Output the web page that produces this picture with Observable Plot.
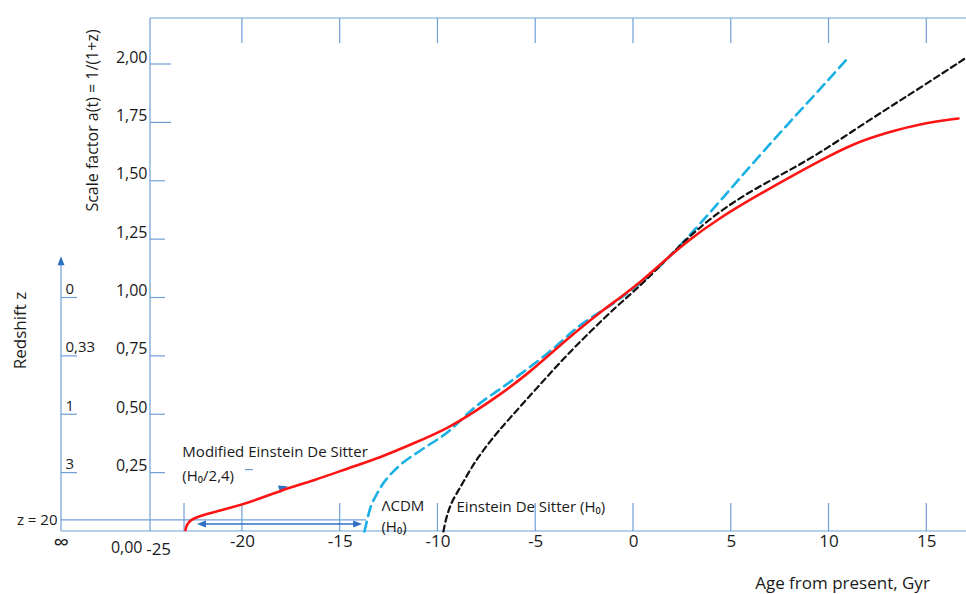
<!DOCTYPE html>
<html>
<head>
<meta charset="utf-8">
<script src="https://cdn.jsdelivr.net/npm/d3@7"></script>
<script src="https://cdn.jsdelivr.net/npm/@observablehq/plot@0.6"></script>
<style>
  html, body { margin: 0; padding: 0; background: #fff; }
  #chart svg { display: block; }
</style>
</head>
<body>
<div id="chart"></div>
<script>
// ---- Data ----
// Modified Einstein De Sitter (H0/2,4): age from present (Gyr) vs scale factor a(t)
const modT = [-22.91, -22.88, -22.80, -22.62, -22.30, -21.48, -19.74, -18.05, -16.36, -14.62, -12.94, -11.25, -9.51, -8.18, -6.80, -5.27, -4.24, -2.86, -1.53, -0.66, 0.51, 1.02, 2.76, 4.45, 6.14, 7.88, 9.56, 11.25, 12.99, 14.68, 16.62];
const modA = [0.006, 0.020, 0.034, 0.050, 0.063, 0.083, 0.120, 0.176, 0.218, 0.270, 0.317, 0.377, 0.441, 0.510, 0.587, 0.685, 0.762, 0.861, 0.951, 1.002, 1.079, 1.118, 1.246, 1.345, 1.430, 1.512, 1.589, 1.662, 1.709, 1.747, 1.769];
// ΛCDM (H0)
const lcdmT = [-13.76, -13.65, -13.45, -13.19, -12.94, -12.07, -10.89, -9.51, -8.18, -6.29, -4.24, -2.86, -0.82, 1.02, 2.76, 4.45, 6.14, 7.88, 9.56, 10.99];
const lcdmA = [0.000, 0.039, 0.103, 0.150, 0.188, 0.274, 0.347, 0.425, 0.527, 0.642, 0.774, 0.874, 0.990, 1.110, 1.259, 1.418, 1.580, 1.743, 1.897, 2.030];
// Einstein De Sitter (H0)
const edsT = [-9.72, -9.61, -9.46, -9.26, -8.95, -8.69, -8.34, -7.98, -7.31, -6.44, -4.91, -3.58, -2.20, -0.82, 0.20, 1.23, 2.76, 4.45, 6.14, 7.88, 9.56, 11.25, 12.99, 14.68, 17.03];
const edsA = [0.000, 0.047, 0.090, 0.133, 0.176, 0.214, 0.266, 0.313, 0.390, 0.475, 0.617, 0.741, 0.857, 0.968, 1.041, 1.126, 1.259, 1.375, 1.465, 1.542, 1.623, 1.717, 1.812, 1.901, 2.030];

// Axes / ticks
const xTicks = [-20, -15, -10, -5, 0, 5, 10, 15];
const xTickLabels = ["-20", "-15", "-10", "-5", "0", "5", "10", "15"];
const yTicks = [0.25, 0.5, 0.75, 1.0, 1.25, 1.5, 1.75, 2.0];
const yTickLabels = ["0,25", "0,50", "0,75", "1,00", "1,25", "1,50", "1,75", "2,00"];
const redshiftA = [1.0, 0.75, 0.5, 0.25];
const redshiftLabels = ["0", "0,33", "1", "3"];
const z20A = 1 / 21;
const xDomain = [-24.7, 17.03];
const yDomain = [0, 2.197];

// Annotations (data coordinates)
const ageArrow = {t1: -22.3, t2: -13.85, a: 0.03};
const curveArrow = {t: -17.9, a: 0.18};

const axisColor = "#6f9fd6";
const arrowColor = "#2f6fc4";
const textColor = "#1a1a1a";

const toRows = (T, A) => T.map((t, i) => ({t, a: A[i]}));

// Axis decorations drawn with the plot's own scales
function decor(index, scales) {
  const x = scales.x, y = scales.y;
  const g = d3.create("svg:g");
  const x0 = x(xDomain[0]);
  const rx = x0 - 89;          // redshift axis position
  const yb = y(0), yt = y(yDomain[1]);
  const line = (x1, y1, x2, y2, c = axisColor, w = 1.2) =>
    g.append("line").attr("x1", x1).attr("y1", y1).attr("x2", x2).attr("y2", y2)
      .attr("stroke", c).attr("stroke-width", w);
  // frame
  line(x0, yt, x(xDomain[1]), yt);
  line(x0, yt, x0, yb);
  line(rx, yb, x(xDomain[1]), yb);
  // top ticks
  for (const t of xTicks) line(x(t), yt, x(t), yt + 25);
  // bottom ticks (plus one at start of the modified curve)
  for (const t of [modT[0] - 0.05, ...xTicks]) line(x(t), yb, x(t), yb - 28);
  // y ticks
  yTicks.forEach(a => line(x0, y(a), x0 + (a >= 1.75 ? 21 : 15), y(a)));
  line(x0 + 95, y(0.25) - 3, x0 + 103, y(0.25) - 3);
  // redshift axis with arrow
  const topA = 1.16;
  line(rx, yb, rx, y(topA) + 4);
  g.append("path").attr("d", `M${rx},${y(topA) - 4}L${rx - 3.5},${y(topA) + 5}L${rx + 3.5},${y(topA) + 5}Z`).attr("fill", arrowColor);
  for (const a of redshiftA) line(rx, y(a), rx + 16, y(a));
  // z = 20 line
  line(rx, y(z20A), x(lcdmT[0]) + 2, y(z20A));
  // double arrow (age difference)
  const ay = y(ageArrow.a), ax1 = x(ageArrow.t1), ax2 = x(ageArrow.t2);
  line(ax1 + 6, ay, ax2 - 6, ay, arrowColor, 1.3);
  g.append("path").attr("d", `M${ax1},${ay}L${ax1 + 9},${ay - 3.5}L${ax1 + 9},${ay + 3.5}Z`).attr("fill", arrowColor);
  g.append("path").attr("d", `M${ax2},${ay}L${ax2 - 9},${ay - 3.5}L${ax2 - 9},${ay + 3.5}Z`).attr("fill", arrowColor);
  // small arrowhead along the red curve
  const cx = x(curveArrow.t), cy = y(curveArrow.a);
  const ang = Math.atan2(y(0.27) - y(0.12), x(-14.62) - x(-19.74)) * 180 / Math.PI;
  g.append("path").attr("d", "M5,0L-4,-4L-4,4Z").attr("fill", arrowColor)
    .attr("transform", `translate(${cx},${cy - 1}) rotate(${ang})`);
  return g.node();
}

const font = "'Open Sans', 'Liberation Sans', sans-serif";

const chart = Plot.plot({
  width: 966,
  height: 594,
  marginLeft: 150,
  marginRight: 0,
  marginTop: 18,
  marginBottom: 63,
  style: {fontFamily: font, fontSize: "16px", color: textColor, background: "#fff", overflow: "visible"},
  x: {domain: xDomain, axis: null},
  y: {domain: yDomain, axis: null},
  marks: [
    decor,
    // curves
    Plot.line(toRows(lcdmT, lcdmA), {x: "t", y: "a", stroke: "#19b1e3", strokeWidth: 2.6, strokeDasharray: "10,6", curve: "monotone-x"}),
    Plot.line(toRows(edsT, edsA), {x: "t", y: "a", stroke: "#111", strokeWidth: 2.2, strokeDasharray: "6,4", curve: "basis"}),
    Plot.line(toRows(modT, modA), {x: "t", y: "a", stroke: "#ff1414", strokeWidth: 2.6, curve: "basis"}),
    // x tick labels
    Plot.text(xTicks, {x: d => d, frameAnchor: "bottom", dy: 15, text: (d, i) => xTickLabels[i], fontSize: 17, fill: textColor}),
    Plot.text([-25], {x: d => d, frameAnchor: "bottom", dy: 23, dx: 14, text: () => "-25", fontSize: 17, fill: textColor}),
    // y tick labels
    Plot.text(yTicks, {y: d => d, frameAnchor: "left", dx: -3, dy: -7, textAnchor: "end", text: (d, i) => yTickLabels[i], fontSize: 16, fill: textColor}),
    Plot.text([0], {y: d => d, frameAnchor: "left", dx: -8, dy: 16, textAnchor: "end", text: () => "0,00", fontSize: 16, fill: textColor}),
    // redshift labels
    Plot.text(redshiftA, {y: d => d, frameAnchor: "left", dx: -85, dy: -9, textAnchor: "start", text: (d, i) => redshiftLabels[i], fontSize: 15, fill: textColor}),
    Plot.text([z20A], {y: d => d, frameAnchor: "left", dx: -93, textAnchor: "end", text: () => "z = 20", fontSize: 15, fill: textColor}),
    Plot.text([0], {y: d => d, frameAnchor: "left", dx: -97, dy: 11, textAnchor: "start", text: () => "∞", fontSize: 22, fill: textColor}),
    // axis titles
    Plot.text(["Scale factor a(t) = 1/(1+z)"], {frameAnchor: "top-left", dx: -58, dy: 102, rotate: -90, textAnchor: "middle", lineAnchor: "middle", text: d => d, fontSize: 16, fill: textColor}),
    Plot.text(["Redshift z"], {frameAnchor: "top-left", dx: -130, dy: 312, rotate: -90, textAnchor: "middle", lineAnchor: "middle", text: d => d, fontSize: 17, fill: textColor}),
    Plot.text(["Age from present, Gyr"], {frameAnchor: "bottom-right", dx: -124, dy: 52, textAnchor: "middle", lineAnchor: "middle", text: d => d, fontSize: 17, fill: textColor}),
    // curve annotations
    Plot.text([{t: -23.07, a: 0.338, s: "Modified Einstein De Sitter"}, {t: -23.07, a: 0.236, s: "(H₀/2,4)"}],
      {x: "t", y: "a", text: "s", textAnchor: "start", fontSize: 15, fill: textColor}),
    Plot.text([{t: -12.89, a: 0.107, s: "ΛCDM"}, {t: -12.89, a: 0.017, s: "(H₀)"}],
      {x: "t", y: "a", text: "s", textAnchor: "start", fontSize: 15, fill: textColor}),
    Plot.text([{t: -9.05, a: 0.103, s: "Einstein De Sitter (H₀)"}],
      {x: "t", y: "a", text: "s", textAnchor: "start", fontSize: 15, fill: textColor})
  ]
});
document.getElementById("chart").append(chart);
</script>
</body>
</html>
